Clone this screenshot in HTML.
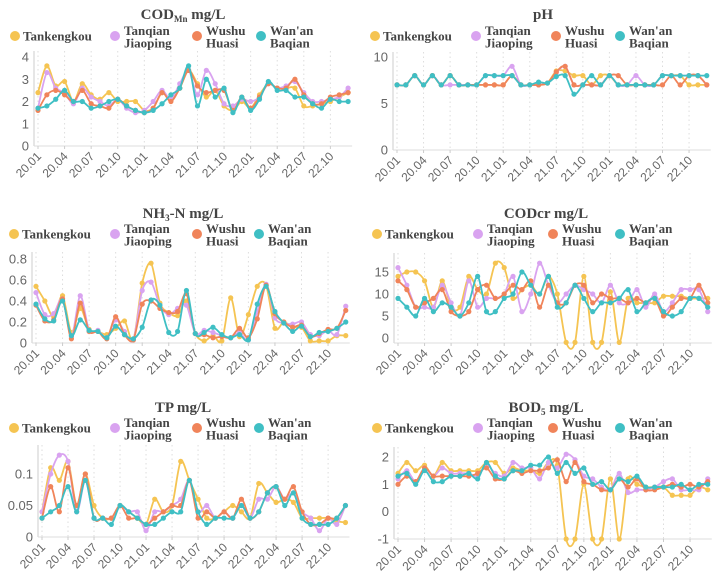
<!DOCTYPE html>
<html><head><meta charset="utf-8">
<style>
html,body{margin:0;padding:0;background:#fff;}
svg{display:block;}
.t{font-family:"Liberation Serif",serif;font-weight:bold;fill:#444;}
.ax{font-family:"Liberation Sans",sans-serif;fill:#666;}
</style></head>
<body>
<svg id="chart" width="718" height="579" viewBox="0 0 718 579" xmlns="http://www.w3.org/2000/svg"></svg>
<script>
const months = ["20.01","20.02","20.03","20.04","20.05","20.06","20.07","20.08","20.09","20.10","20.11","20.12","21.01","21.02","21.03","21.04","21.05","21.06","21.07","21.08","21.09","21.10","21.11","21.12","22.01","22.02","22.03","22.04","22.05","22.06","22.07","22.08","22.09","22.10","22.11","22.12"];
const seriesNames = ["Tankengkou","Tanqian Jiaoping","Wushu Huasi","Wan'an Baqian"];
const codT=[2.4,3.6,2.7,2.9,2.0,2.8,2.3,2.1,2.4,2.0,2.0,2.0,1.6,1.7,2.4,2.1,2.6,3.4,2.8,2.2,2.5,1.8,1.6,2.0,1.7,2.3,2.8,2.6,2.6,2.6,1.8,1.8,1.9,2.0,2.2,2.4];
const codJ=[1.7,3.3,2.6,2.4,1.9,2.6,2.2,2.0,1.8,2.1,1.7,1.5,1.6,2.0,2.5,2.1,2.8,3.4,2.3,3.4,2.8,1.9,1.8,2.1,2.0,2.2,2.8,2.6,2.7,2.9,2.4,2.0,2.0,2.1,2.2,2.6];
const codW=[1.6,2.3,2.5,2.3,2.0,2.5,1.9,1.8,1.7,2.1,1.8,1.6,1.5,1.7,2.4,2.0,2.6,3.4,2.7,2.4,2.5,2.5,1.6,2.2,1.7,2.2,2.8,2.6,2.6,3.0,2.3,1.9,1.9,2.2,2.3,2.4];
const codB=[1.7,1.8,2.1,2.5,2.0,2.0,1.7,1.8,2.0,2.1,1.8,1.6,1.5,1.6,1.9,2.3,2.6,3.6,1.8,3.0,2.2,2.6,1.5,2.2,1.6,2.1,2.9,2.5,2.5,2.2,2.2,1.9,1.7,2.1,2.0,2.0];
const phT=[7,7,8,7,8,7,8,7,7,7,7,7,7,8,7,7,7,7.2,8.5,8.5,8,8,7,8,8,7,7,7,7,7,8,8,8,7,7,7];
const phJ=[7,7,8,7,8,7,7,7,7,7,8,8,8,9,7,7,7,7.2,8.3,9,7,7,7,7,8,7,7,8,7,7,8,8,8,8,8,7];
const phW=[7,7,8,7,8,7,8,7,7,7,7,7,7,8,7,7,7,7.2,8.4,9,7,7,7,7,8,8,7,7,7,7,7,8,7,8,8,7];
const phB=[7,7,8,7,8,7,8,7,7,7,8,8,8,8,7,7,7.3,7.2,7.9,8,6,7,8,7,8,7,7,7,7,7,8,8,8,8,8,8];
const nhT=[0.54,0.40,0.25,0.45,0.10,0.33,0.13,0.11,0.08,0.14,0.21,0.03,0.57,0.76,0.38,0.29,0.26,0.40,0.09,0.02,0.07,0.02,0.43,0.06,0.27,0.54,0.55,0.14,0.20,0.15,0.15,0.02,0.02,0.02,0.07,0.07];
const nhJ=[0.48,0.27,0.28,0.42,0.06,0.45,0.12,0.12,0.05,0.22,0.11,0.03,0.50,0.58,0.36,0.27,0.33,0.36,0.09,0.12,0.10,0.07,0.05,0.10,0.03,0.30,0.56,0.24,0.19,0.18,0.20,0.08,0.07,0.12,0.08,0.35];
const nhW=[0.36,0.21,0.22,0.42,0.04,0.38,0.11,0.11,0.04,0.25,0.08,0.03,0.37,0.40,0.33,0.29,0.30,0.47,0.09,0.08,0.05,0.06,0.05,0.14,0.05,0.23,0.55,0.28,0.20,0.15,0.17,0.06,0.09,0.13,0.14,0.31];
const nhB=[0.37,0.23,0.21,0.40,0.07,0.22,0.12,0.11,0.05,0.16,0.08,0.04,0.15,0.41,0.36,0.10,0.11,0.50,0.09,0.10,0.15,0.08,0.05,0.08,0.03,0.37,0.54,0.30,0.19,0.11,0.16,0.06,0.10,0.11,0.14,0.20];
const crT=[14,15,15,13,7,13,7,7,14,11,10,17,16,9,11,12,10,14,10,-1,-1,14,-1,-1,10.5,-1,9,8,8,8,9.5,9.5,9.5,9,9,9];
const crJ=[16,12,7,7,7,12,8,5,13,7,9,9,10,14,6,10,17,12,8,10,12,11,10,8,12,8,8,11,7,10,6,8,11,11,11,6];
const crW=[13,11,7,8,9,11,6,5,6,11,12,9,10,12,11,13,7,12,8,8,12,12,8,10,9,9,8,9,8,9,5,7,9,9,12,8];
const crB=[9,7,5,9,6,8,7,5,8,14,6,6,9,10,15,12,10,14,7,8,12,9,6,8,8,9,11,6,8,9,6,5,6,9,9,7];
const tpT=[0.04,0.11,0.09,0.12,0.05,0.10,0.05,0.03,0.03,0.05,0.04,0.03,0.02,0.06,0.04,0.05,0.12,0.09,0.06,0.03,0.03,0.04,0.05,0.04,0.03,0.085,0.07,0.055,0.06,0.055,0.03,0.03,0.03,0.03,0.025,0.023];
const tpJ=[0.04,0.10,0.13,0.12,0.04,0.09,0.03,0.03,0.03,0.05,0.04,0.04,0.01,0.04,0.04,0.05,0.06,0.09,0.04,0.05,0.03,0.04,0.03,0.05,0.03,0.06,0.06,0.08,0.06,0.07,0.04,0.03,0.01,0.03,0.02,0.05];
const tpW=[0.03,0.08,0.04,0.11,0.05,0.10,0.03,0.03,0.03,0.05,0.03,0.03,0.02,0.03,0.04,0.05,0.05,0.09,0.03,0.04,0.03,0.04,0.03,0.06,0.03,0.04,0.07,0.08,0.06,0.08,0.04,0.02,0.02,0.03,0.03,0.05];
const tpB=[0.03,0.04,0.05,0.08,0.04,0.09,0.03,0.03,0.02,0.05,0.04,0.03,0.02,0.02,0.03,0.04,0.04,0.09,0.04,0.02,0.03,0.03,0.03,0.05,0.03,0.04,0.07,0.08,0.05,0.07,0.03,0.02,0.02,0.02,0.03,0.05];
const bodT=[1.4,1.8,1.5,1.7,1.3,1.8,1.5,1.5,1.5,1.5,1.8,1.8,1.4,1.6,1.5,1.5,1.4,1.8,1.7,-1,-1,1.0,-1,-1,1.2,-1,1.2,1.0,0.9,0.9,0.9,0.6,0.6,0.6,0.9,0.8];
const bodJ=[1.2,1.5,1.1,1.6,1.3,1.6,1.4,1.4,1.4,1.3,1.7,1.4,1.3,1.8,1.6,1.6,1.2,1.8,1.6,2.1,1.9,1.3,1.2,0.9,0.8,1.4,0.7,0.8,0.8,0.9,1.1,1.2,0.8,0.8,0.8,1.2];
const bodW=[1.0,1.3,1.1,1.6,1.3,1.3,1.3,1.3,1.3,1.4,1.6,1.2,1.2,1.5,1.4,1.5,1.5,1.6,1.9,1.1,1.8,1.1,1.0,0.8,0.8,1.2,0.9,1.2,0.8,0.8,0.9,1.0,0.9,1.0,0.9,1.1];
const bodB=[1.3,1.4,1.0,1.5,1.1,1.1,1.3,1.3,1.4,1.2,1.8,1.3,1.2,1.5,1.5,1.7,1.7,2.0,1.4,1.8,1.4,1.6,1.0,1.1,0.8,1.2,1.1,1.3,0.9,0.9,0.9,0.9,1.0,0.8,1.0,1.0];
const codTicks=[0,1,2,3,4], phTicks=[0,5,10], nhTicks=[0,0.2,0.4,0.6,0.8], crTicks=[0,5,10,15], tpTicks=[0,0.05,0.1], bodTicks=[-1,0,1,2];

const colors=["#f5c452","#d9a3f0","#f0845a","#3fbfc4"];
const NS="http://www.w3.org/2000/svg";
const svg=document.getElementById("chart");
function mk(tag,attrs,parent){const e=document.createElementNS(NS,tag);for(const k in attrs)e.setAttribute(k,attrs[k]);(parent||svg).appendChild(e);return e;}

const panels=[
 {key:"codmn",title:"COD",sub:"Mn",unit:" mg/L",data:[codT,codJ,codW,codB],ticks:codTicks,x0:38,dx:8.86,v1:4,p1:57,v0:0,p0:146,top:51,bot:146,tx:183,ty:19,ly:36,lx:[15,115,197,261]},
 {key:"ph",title:"pH",sub:"",unit:"",data:[phT,phJ,phW,phB],ticks:phTicks,x0:397,dx:8.85,v1:10,p1:57,v0:0,p0:150,top:52,bot:150,tx:543,ty:19,ly:36,lx:[375,476,556,620]},
 {key:"nh3n",title:"NH",sub:"3",unit:"-N mg/L",data:[nhT,nhJ,nhW,nhB],ticks:nhTicks,x0:36,dx:8.85,v1:0.8,p1:259,v0:0,p0:343,top:252,bot:343,tx:183,ty:218,ly:234,lx:[14,115,197,259]},
 {key:"codcr",title:"CODcr",sub:"",unit:" mg/L",data:[crT,crJ,crW,crB],ticks:crTicks,x0:398,dx:8.85,v1:15,p1:272,v0:0,p0:338,top:253,bot:343,tx:546,ty:218,ly:234,lx:[377,478,553,620]},
 {key:"tp",title:"TP",sub:"",unit:" mg/L",data:[tpT,tpJ,tpW,tpB],ticks:tpTicks,x0:42,dx:8.67,v1:0.1,p1:474,v0:0,p0:537,top:445,bot:537,tx:183,ty:412,ly:428,lx:[14,115,197,259]},
 {key:"bod5",title:"BOD",sub:"5",unit:" mg/L",data:[bodT,bodJ,bodW,bodB],ticks:bodTicks,x0:398,dx:8.85,v1:2,p1:457,v0:-1,p0:539,top:447,bot:539,tx:546,ty:412,ly:428,lx:[377,478,553,620]}
];

panels.forEach(P=>{
  const g=mk("g",{});
  
  
  const xS=i=>P.x0+i*P.dx;
  const yS=v=>P.p0+(v-P.v0)*(P.p1-P.p0)/(P.v1-P.v0);
  const t=mk("text",{x:P.tx,y:P.ty,"text-anchor":"middle","font-size":"15",class:"t"},g);
  
  
  t.appendChild(document.createTextNode(P.title));
  if(P.sub){const s=mk("tspan",{"font-size":"9",dy:"3"},t);s.textContent=P.sub;const u=mk("tspan",{dy:"-3"},t);u.textContent=P.unit;}
  else t.appendChild(document.createTextNode(P.unit));
  seriesNames.forEach((n,k)=>{
    const lg=mk("g",{},g);
    
    
    mk("circle",{cx:P.lx[k],cy:P.ly,r:5,fill:colors[k]},lg);
    const parts=n.split(" ");
    if(parts.length===1){const tt=mk("text",{x:P.lx[k]+8,y:P.ly+4.5,"font-size":"13",class:"t"},lg);tt.textContent=n;}
    else parts.forEach((p,j)=>{const tt=mk("text",{x:P.lx[k]+9,y:P.ly-1+j*12.5,"font-size":"13",class:"t"},lg);tt.textContent=p;});
  });
  for(let i=0;i<months.length;i+=3){
    mk("line",{x1:xS(i),x2:xS(i),y1:P.top,y2:P.bot,stroke:"#ddd","stroke-dasharray":"1.5,3","stroke-width":1},g);
  }
  const ya=mk("line",{x1:P.x0-4,x2:P.x0-4,y1:P.top,y2:P.bot,stroke:"#ccc","stroke-width":1},g);
  
  
  const xa=mk("line",{x1:P.x0-4,x2:xS(35)+4,y1:P.bot,y2:P.bot,stroke:"#ddd","stroke-width":1},g);
  
  
  P.ticks.forEach(v=>{
    const tl=mk("text",{x:P.x0-9,y:yS(v)+4.5,"text-anchor":"end","font-size":"13",class:"ax"},g);
    
    
    tl.textContent=v;
  });
  for(let i=0;i<months.length;i+=3){
    mk("line",{x1:xS(i),x2:xS(i),y1:P.bot,y2:P.bot+3,stroke:"#ccc"},g);
    const xl=mk("text",{x:xS(i)+4,y:P.bot+11,"text-anchor":"end","font-size":"12",class:"ax",transform:`rotate(-45 ${xS(i)+4} ${P.bot+11})`},g);
    
    
    xl.textContent=months[i];
  }
  P.data.forEach((arr,k)=>{
    const sg=mk("g",{},g);
    
    
    const pts=arr.map((v,i)=>[xS(i),yS(v)]);
    let d="M"+pts[0][0]+","+pts[0][1];
    for(let i=0;i<pts.length-1;i++){
      const p0=pts[Math.max(0,i-1)],p1=pts[i],p2=pts[i+1],p3=pts[Math.min(pts.length-1,i+2)];
      const s=0.15;
      d+=` C${p1[0]+(p2[0]-p0[0])*s},${p1[1]+(p2[1]-p0[1])*s} ${p2[0]-(p3[0]-p1[0])*s},${p2[1]-(p3[1]-p1[1])*s} ${p2[0]},${p2[1]}`;
    }
    mk("path",{d:d,fill:"none",stroke:colors[k],"stroke-width":1.8},sg);
    pts.forEach(p=>mk("circle",{cx:p[0],cy:p[1],r:2.6,fill:colors[k]},sg));
  });
});
</script>
</body></html>
